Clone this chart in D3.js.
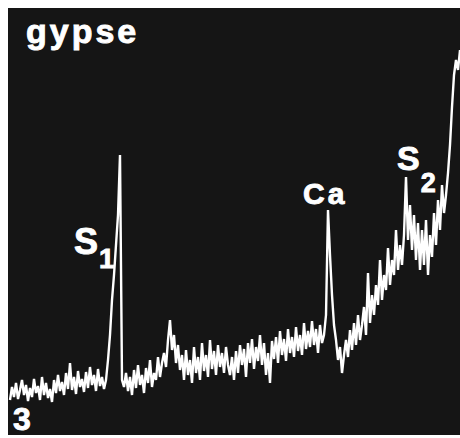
<!DOCTYPE html>
<html>
<head>
<meta charset="utf-8">
<script src="https://cdn.jsdelivr.net/npm/d3@7"></script>
<style>
  body { margin: 0; background: #fff; }
  text { font-family: "Liberation Sans", Arial, sans-serif; font-weight: bold; fill: #fff; stroke: #fff; stroke-width: 0.9px; }
</style>
</head>
<body>
<div id="chart"></div>
<script>
// spectrum counts, one value per channel
const counts = [
  35, 48, 38, 52, 36, 45, 55, 40, 50, 34, 47, 38, 56, 42, 49, 35, 58, 40, 52, 37,
  46, 33, 55, 42, 60, 44, 53, 40, 62, 46, 72, 45, 58, 41, 64, 48, 56, 43, 63, 47,
  68, 50, 60, 44, 66, 49, 58, 46, 55,
  // S1 peak
  75, 100, 135, 160, 190, 220, 280,
  55, 48, 62, 44, 58, 40, 65, 47, 70, 50, 60, 42, 67, 52, 75, 48, 62, 55, 78, 58,
  72, 82, 68, 95, 115, 85, 100, 72, 90, 65, 80, 55, 85, 60, 75, 52, 88, 62, 78, 55,
  92, 64, 80, 58, 95, 66, 84, 60, 90, 68, 82, 62, 88, 70, 60, 78, 55, 84, 62, 90,
  70, 86, 58, 92, 72, 96, 66, 88, 74, 100, 70, 92, 60, 82, 52, 94, 76, 98, 72, 104,
  80, 96, 74, 106, 82, 98, 78, 108, 84, 100, 80, 112, 86, 104, 88, 114, 90, 106, 82, 110,
  92, 100, 120,
  // Ca peak
  225, 180, 140, 110, 95, 75, 88, 62,
  80, 95, 78, 105, 85, 112, 90, 120, 95, 110, 128, 100, 162, 112, 140, 120, 150, 130,
  175, 135, 160, 145, 187, 150, 175, 160, 205, 165, 190, 170, 200,
  // S2 peak
  258, 195, 230, 185, 220, 175, 212, 165, 205, 170, 215, 160, 200, 178, 222, 190,
  235, 205, 250, 222, 240, 262, 290, 328, 360, 375, 365, 385
];

const labels = [
  {name: "S", sub: "1", ch: 55},
  {name: "Ca", sub: "", ch: 159},
  {name: "S", sub: "2", ch: 198}
];

const title = "gypse";
const panelNo = "3";

const width = 460, height = 438;
const panel = {left: 8, top: 8, right: 460, bottom: 435};

const svg = d3.select("#chart").append("svg")
    .attr("width", width)
    .attr("height", height);

svg.append("rect")
    .attr("x", panel.left)
    .attr("y", panel.top)
    .attr("width", panel.right - panel.left)
    .attr("height", panel.bottom - panel.top)
    .attr("fill", "#151515");

var x = d3.scaleLinear()
    .domain([0, counts.length - 1])
    .range([10, 460]);

var y = d3.scaleLinear()
    .domain([0, 427])
    .range([panel.bottom, panel.top]);

var line = d3.line()
    .x(function(d, i) { return x(i); })
    .y(function(d) { return y(d); });

svg.append("path")
    .datum(counts)
    .attr("fill", "none")
    .attr("stroke", "#fff")
    .attr("stroke-width", 2.4)
    .attr("stroke-linejoin", "bevel")
    .attr("d", line);

// title
svg.append("text")
    .attr("x", 26)
    .attr("y", 43)
    .style("font-size", "34px")
    .style("letter-spacing", "3px")
    .text(title);

// peak labels
var pos = [
  {dx: -46, y: 254, size: 36, subSize: 28, subY: 268},
  {dx: -25, y: 204, size: 30, subSize: 0, subY: 0},
  {dx: -9, y: 170, size: 34, subSize: 27, subY: 192}
];

labels.forEach(function(d, i) {
  var p = pos[i];
  var t = svg.append("text")
      .attr("x", x(d.ch) + p.dx)
      .attr("y", p.y)
      .style("font-size", p.size + "px")
      .style("letter-spacing", d.sub ? "0px" : "3px");
  t.append("tspan").text(d.name);
  if (d.sub) {
    t.append("tspan")
      .attr("dx", 1)
      .attr("y", p.subY)
      .style("font-size", p.subSize + "px")
      .text(d.sub);
  }
});

svg.append("text")
    .attr("x", 13)
    .attr("y", 430)
    .style("font-size", "32px")
    .text(panelNo);
</script>
</body>
</html>
